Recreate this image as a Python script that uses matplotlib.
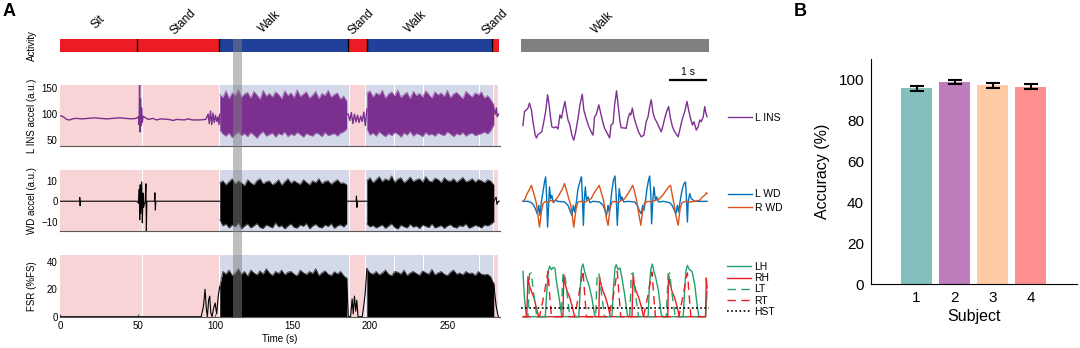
import matplotlib
matplotlib.use('Agg')
import matplotlib.pyplot as plt
import numpy as np

plt.rcParams['font.family'] = ['Liberation Sans', 'DejaVu Sans']
plt.rcParams['axes.unicode_minus'] = True

W, H = 1080, 348

# ---------------------------------------------------------------- panel A data
# activity annotation of the recording (s)
activity_names = ['Sit', 'Stand', 'Walk', 'Stand', 'Walk', 'Stand']
activity_edges = [0, 49.4, 102.5, 186.0, 198.0, 279.0, 283.4]
activity_label_t = [24.7, 79.6, 135.5, 194.4, 229.8, 280.8]

# classifier windows shown behind the signals
window_edges = [0, 53.2, 102.9, 186.6, 197.4, 215.8, 234.4, 270.6, 279.9, 283.3]
window_kind = ['static', 'static', 'walk', 'static', 'walk', 'walk', 'walk',
               'walk', 'static']

# zoomed walking segment (s)
zoom_span = [111.7, 117.5]

# sample times of the envelopes during the two walking bouts
walk1_t = np.arange(103, 186, 2)
walk2_t = np.arange(198, 281, 2)

# L INS acceleration (a.u.)
ins_rest1 = [(0, 97), (2, 95), (4, 90), (6, 89), (8, 91), (10, 92), (14, 91),
             (18, 92), (22, 93), (26, 92), (30, 91), (34, 92), (38, 93),
             (42, 92), (46, 91), (49, 92), (50.5, 95), (50.9, 80),
             (51.2, 156), (51.5, 66), (51.8, 130), (52.1, 78), (52.5, 112),
             (52.9, 84), (53.5, 96), (55, 93), (57, 90), (60, 92), (62, 89),
             (65, 91), (70, 90), (73, 88), (75, 90), (80, 89), (83, 91),
             (85, 89), (90, 89), (94, 90), (95.5, 100), (96.2, 82),
             (97, 106), (97.8, 80), (98.6, 102), (99.4, 84), (100.2, 98),
             (101, 86), (101.8, 95), (102.5, 80), (103, 100)]
ins_rest2 = [(185, 100), (186, 100), (187, 88), (188, 103), (189, 82),
             (190, 100), (191, 85), (192, 98), (193, 84), (194, 96),
             (195, 86), (196, 104), (197, 78), (198, 110)]
ins_rest3 = [(280, 110), (281, 100), (281.6, 112), (282.2, 95), (283, 100)]
ins_walk1_hi = [138, 132, 145, 130, 141, 136, 147, 133, 139, 142, 131, 144,
                137, 129, 146, 135, 140, 133, 143, 138, 130, 145, 136, 141,
                132, 147, 134, 139, 143, 131, 137, 144, 130, 140, 136, 146,
                133, 138, 141, 129, 135, 125]
ins_walk1_lo = [70, 62, 58, 64, 55, 61, 66, 59, 63, 57, 65, 60, 54, 62, 67,
                58, 61, 64, 56, 63, 60, 66, 57, 62, 59, 65, 61, 56, 63, 60,
                58, 64, 62, 57, 65, 59, 61, 63, 58, 64, 66, 72]
ins_walk2_hi = [140, 145, 133, 141, 137, 146, 131, 139, 143, 135, 147, 132,
                138, 142, 130, 144, 136, 140, 133, 145, 138, 131, 143, 137,
                141, 134, 146, 132, 139, 142, 136, 130, 144, 138, 133, 141,
                137, 143, 131, 136, 128, 118]
ins_walk2_lo = [72, 60, 64, 58, 66, 61, 57, 63, 59, 65, 62, 56, 64, 60, 67,
                58, 63, 61, 57, 65, 60, 62, 58, 64, 61, 59, 66, 62, 57, 63,
                60, 65, 58, 62, 64, 59, 61, 63, 66, 62, 68, 80]

# WD acceleration (a.u.)
wd_rest1 = [(0, 0), (12.4, 0), (12.6, 1.8), (12.8, -2.2), (13.0, 0),
            (49.5, 0), (50.5, -1), (51, 5.8), (51.3, -9), (51.6, 8),
            (52, -6), (52.6, 9.4), (53, -10.5), (53.4, 4), (53.8, -3),
            (54.8, 0), (55.3, 8.5), (55.6, -14.8), (55.9, 0), (60.8, 0),
            (61.1, 4.1), (61.4, -4.3), (61.7, 0), (102.5, 0), (103, 0)]
wd_rest2 = [(185, 0), (191, 0), (191.3, 2.5), (191.6, -3), (191.9, 0),
            (198, 0)]
wd_rest3 = [(280, 0), (281.5, 2), (282, -1.5), (283, 0), (283.5, 0)]
wd_walk1_hi = [9, 10, 8, 9.5, 11, 8.5, 10, 9, 7.5, 10.5, 9, 8, 10, 11, 8.5,
               9.5, 10, 8, 9, 10.5, 7.8, 9.5, 11, 8.8, 10, 9, 8.2, 10.5, 9.2,
               8, 10, 9, 11, 8.5, 9.7, 10, 8.3, 9.5, 10.5, 8.8, 9, 8]
wd_walk1_lo = [-9, -12, -11, -13, -11.5, -12.5, -10.5, -13.5, -12, -11, -13,
               -12, -10.8, -12.8, -13.2, -11.5, -12.2, -13, -10.5, -12.5,
               -11.8, -13.5, -12, -11, -12.8, -13, -11.5, -12.2, -10.8,
               -13.4, -12, -11.2, -12.6, -13, -11.5, -12.3, -10.9, -13.2,
               -12, -11.4, -12.5, -11]
wd_walk2_hi = [10, 11.5, 9, 10.5, 12, 9.5, 11, 10, 12.3, 9.2, 10.8, 11.5, 9,
               10.2, 11.8, 9.6, 10.5, 11, 9.3, 12, 10, 9.4, 11.2, 10.6, 9,
               11.5, 10, 9.8, 11, 9.2, 10.4, 11.6, 9.5, 10, 11, 9.3, 10.6,
               10, 9, 10.5, 9.8, 8]
wd_walk2_lo = [-11, -12.5, -11.8, -13, -12.2, -11.5, -13.2, -12, -11, -12.8,
               -13.5, -11.6, -12.4, -13, -11.2, -12.6, -12, -13.3, -11.5,
               -12.2, -12.8, -11, -13, -12.4, -11.8, -13.2, -12, -11.4,
               -12.6, -13, -11.8, -12.3, -11, -13.1, -12.5, -11.7, -12.2,
               -13, -11.5, -12, -11.2, -10]

# FSR (% full scale)
fsr_rest1 = [(0, 0), (91, 0), (92.5, 8), (93.5, 20), (94.3, 6), (95, 0),
             (95.8, 12), (96.5, 15), (97.2, 3), (98, 0), (99, 6), (100, 10),
             (101, 2), (102, 15), (103, 22)]
fsr_rest2 = [(185, 28), (186, 0), (187.5, 0), (188.5, 13), (189.2, 2),
             (190, 15), (190.8, 4), (191.5, 12), (192.3, 0), (195, 0),
             (196, 8), (197, 18), (198, 35)]
fsr_rest3 = [(280, 24), (280.5, 18), (281.5, 8), (282.5, 2), (283, 0)]
fsr_walk1_hi = [22, 33, 31, 34, 30, 32, 35, 31, 33, 29.5, 34, 32, 30.5, 33.5,
                31, 35, 32, 30, 33, 31.5, 34, 30.5, 32.5, 33, 31, 29.8, 34,
                32, 30.8, 33, 31.5, 35, 30, 32, 33.5, 31, 30, 32.8, 31.2, 33,
                30, 28]
fsr_walk2_hi = [35, 32, 31, 33, 30.5, 32, 34, 31, 30, 33, 32.5, 31, 34, 30,
                32, 33, 31.5, 30.2, 33.5, 32, 31, 34.5, 30.5, 32, 33, 31, 30,
                32.5, 34, 31, 32, 30.5, 33, 31.5, 32, 30, 33, 31, 30.5, 31,
                29, 24]

# ------------------------------------------------ zoomed walking segment (s)
detail_span = [-0.05, 4.83]
ins_detail = [(0.00, 87), (0.04, 112), (0.09, 115), (0.13, 118), (0.17, 127),
              (0.22, 115), (0.26, 94), (0.32, 70), (0.35, 65), (0.39, 71),
              (0.43, 73), (0.49, 76), (0.55, 97), (0.59, 112), (0.64, 142),
              (0.68, 124), (0.72, 100), (0.75, 85), (0.81, 83), (0.86, 85),
              (0.91, 81), (0.96, 106), (1.00, 100), (1.05, 118), (1.09, 130),
              (1.13, 112), (1.17, 97), (1.22, 88), (1.27, 70), (1.32, 61),
              (1.37, 76), (1.43, 100), (1.48, 124), (1.54, 143), (1.58, 115),
              (1.64, 100), (1.71, 85), (1.77, 76), (1.82, 70), (1.86, 103),
              (1.90, 106), (1.97, 124), (2.02, 109), (2.07, 94), (2.12, 82),
              (2.19, 73), (2.25, 65), (2.29, 88), (2.34, 91), (2.38, 124),
              (2.43, 149), (2.47, 124), (2.52, 94), (2.55, 83), (2.62, 83),
              (2.68, 82), (2.73, 100), (2.77, 109), (2.80, 106), (2.84, 118),
              (2.88, 103), (2.94, 88), (3.00, 76), (3.07, 67), (3.14, 70),
              (3.20, 94), (3.25, 103), (3.29, 121), (3.33, 133), (3.38, 109),
              (3.42, 100), (3.49, 91), (3.55, 82), (3.59, 76), (3.64, 88),
              (3.68, 100), (3.73, 112), (3.78, 121), (3.83, 100), (3.88, 85),
              (3.94, 76), (4.03, 67), (4.08, 82), (4.13, 97), (4.20, 112),
              (4.26, 130), (4.30, 115), (4.35, 100), (4.40, 88), (4.44, 94),
              (4.50, 79), (4.55, 85), (4.59, 97), (4.63, 94), (4.68, 103),
              (4.72, 121), (4.74, 112), (4.78, 103)]
lwd_detail = [(0.00, 0), (0.13, 0), (0.22, -0.6), (0.28, -1.8), (0.33, -3.6),
              (0.37, -5.6), (0.41, -1.8), (0.44, -6.3), (0.48, 0), (0.52, 4.2),
              (0.56, 8.7), (0.59, 11.0), (0.61, 4.2), (0.64, -11.6),
              (0.67, -0.3), (0.69, 6.5), (0.72, 1.2), (0.75, 2.7),
              (0.79, -0.6), (0.84, 0.5), (0.91, 0), (1.08, -0.3),
              (1.17, -1.8), (1.22, -4.1), (1.27, -6.3), (1.31, -1.8),
              (1.34, -4.8), (1.39, 0), (1.43, 5.7), (1.49, 9.5), (1.52, 11.0),
              (1.54, 2.7), (1.57, -10.8), (1.59, 0), (1.62, 6.5), (1.65, 0.5),
              (1.69, 2.0), (1.74, -0.6), (1.82, 0), (1.99, -0.3),
              (2.08, -1.8), (2.12, -3.6), (2.17, -6.3), (2.21, -1.8),
              (2.24, -4.8), (2.28, 0), (2.31, 5.0), (2.35, 9.5), (2.39, 11.4),
              (2.42, 2.7), (2.45, -10.8), (2.48, 0), (2.50, 5.7), (2.54, 0.5),
              (2.57, 2.0), (2.62, -0.3), (2.73, 0), (2.90, -0.3),
              (2.97, -1.8), (3.02, -4.1), (3.07, -5.6), (3.11, -1.8),
              (3.14, -4.1), (3.18, 0), (3.22, 5.7), (3.26, 9.5), (3.29, 11.4),
              (3.32, 2.7), (3.34, -10.1), (3.37, 0), (3.40, 6.5), (3.44, 0.5),
              (3.47, 2.0), (3.52, -0.3), (3.64, 0), (3.81, -0.6),
              (3.87, -1.8), (3.92, -3.6), (3.97, -5.6), (4.01, -1.8),
              (4.04, -4.8), (4.08, 0), (4.13, 5.0), (4.18, 8.0), (4.22, 8.7),
              (4.24, 2.7), (4.27, -9.3), (4.29, 0), (4.33, 3.5), (4.37, 1.2),
              (4.46, 0), (4.63, 0), (4.78, 0)]
rwd_detail = [(0.00, 0), (0.06, 1.2), (0.11, 3.5), (0.16, 5.0), (0.22, 7.2),
              (0.27, 4.2), (0.32, 1.2), (0.35, -1.1), (0.39, -6.3),
              (0.43, -11.6), (0.48, -4.8), (0.52, -1.1), (0.58, 0),
              (0.65, -0.6), (0.72, 0.5), (0.78, 0), (0.84, 0.5), (0.91, 2.0),
              (0.97, 3.9), (1.03, 5.7), (1.08, 8.0), (1.13, 5.0), (1.19, 1.2),
              (1.24, -1.8), (1.28, -6.3), (1.32, -11.6), (1.38, -3.3),
              (1.43, -0.3), (1.52, 0), (1.60, -0.6), (1.69, 0.5), (1.77, 1.2),
              (1.84, 3.5), (1.91, 5.4), (1.98, 7.2), (2.03, 4.2), (2.09, 0.5),
              (2.13, -3.3), (2.17, -7.8), (2.21, -10.8), (2.26, -3.3),
              (2.31, -0.3), (2.38, 0), (2.47, -0.6), (2.55, 0.3), (2.64, 1.2),
              (2.71, 3.0), (2.78, 5.0), (2.85, 7.2), (2.90, 4.2), (2.95, 0.5),
              (3.00, -4.8), (3.06, -10.8), (3.11, -4.1), (3.16, -0.6),
              (3.25, 0), (3.33, -0.3), (3.42, 0.3), (3.52, 0.9), (3.61, 2.4),
              (3.70, 4.5), (3.78, 6.5), (3.83, 7.2), (3.87, 3.5),
              (3.92, -1.1), (3.97, -6.3), (4.03, -10.8), (4.08, -3.3),
              (4.13, -0.6), (4.22, 0), (4.33, -0.3), (4.46, 0), (4.59, 0.5),
              (4.66, 2.0), (4.72, 2.7), (4.76, 3.9), (4.78, 3.5)]
lh_detail = [(0.00, 34), (0.04, 14), (0.09, 0), (0.58, 0), (0.62, 19),
             (0.66, 34), (0.69, 37.8), (0.74, 35.3), (0.79, 37), (0.83, 36.5),
             (0.87, 26.5), (0.94, 14), (1.00, 1.5), (1.02, 0), (1.45, 0),
             (1.49, 21.5), (1.52, 36.5), (1.56, 39.5), (1.60, 34), (1.65, 29),
             (1.72, 22.8), (1.79, 14), (1.86, 1.5), (1.90, 0), (2.31, 0),
             (2.35, 21.5), (2.39, 36.5), (2.42, 39), (2.47, 35.3),
             (2.52, 36.5), (2.57, 29), (2.64, 16.5), (2.71, 1.5), (2.74, 0),
             (3.25, 0), (3.28, 21.5), (3.32, 35.3), (3.36, 39.5), (3.40, 34),
             (3.45, 29), (3.52, 19), (3.59, 1.5), (3.63, 0), (4.16, 0),
             (4.20, 21.5), (4.23, 34), (4.27, 38.5), (4.32, 35.3), (4.39, 34),
             (4.46, 24), (4.53, 6.5), (4.57, 0), (4.74, 0), (4.78, 19)]
lt_detail = [(0.00, 0), (0.13, 0), (0.16, 19), (0.17, 32), (0.22, 32.8),
             (0.26, 21.5), (0.33, 6.5), (0.36, 0), (1.00, 0), (1.02, 19),
             (1.04, 32), (1.08, 32.8), (1.13, 21.5), (1.19, 6.5), (1.23, 0),
             (1.89, 0), (1.91, 19), (1.93, 32), (1.97, 32.8), (2.02, 21.5),
             (2.09, 6.5), (2.12, 0), (2.77, 0), (2.80, 19), (2.81, 32),
             (2.86, 32.8), (2.90, 21.5), (2.97, 6.5), (3.00, 0), (3.72, 0),
             (3.75, 19), (3.77, 32), (3.81, 32.8), (3.85, 21.5), (3.92, 6.5),
             (3.96, 0), (4.78, 0)]
rh_detail = [(0.00, 0), (0.10, 0), (0.13, 30), (0.16, 24), (0.22, 19),
             (0.29, 14), (0.35, 6.5), (0.41, 0), (1.04, 0), (1.06, 31.5),
             (1.10, 24), (1.15, 19), (1.22, 14), (1.29, 6.5), (1.34, 0),
             (1.97, 0), (1.99, 30), (2.03, 24), (2.08, 19), (2.15, 14),
             (2.22, 6.5), (2.27, 0), (2.83, 0), (2.86, 31.5), (2.89, 24),
             (2.94, 19), (3.01, 14), (3.08, 6.5), (3.13, 0), (3.76, 0),
             (3.78, 31.5), (3.82, 24), (3.87, 19), (3.94, 14), (4.01, 6.5),
             (4.06, 0), (4.74, 0), (4.76, 29), (4.78, 21.5)]
rt_detail = [(0.00, 0), (0.43, 0), (0.55, 16.5), (0.65, 34), (0.70, 14),
             (0.74, 0), (1.34, 0), (1.45, 16.5), (1.56, 34.5), (1.61, 14),
             (1.65, 0), (2.23, 0), (2.35, 16.5), (2.45, 34), (2.50, 14),
             (2.54, 0), (3.13, 0), (3.25, 16.5), (3.35, 33.5), (3.40, 14),
             (3.44, 0), (4.05, 0), (4.16, 16.5), (4.27, 32.8), (4.32, 14),
             (4.36, 0), (4.78, 0)]
hst_level = 6.5
scale_bar_s = 1.0

# ---------------------------------------------------------------- panel B data
subjects = [1, 2, 3, 4]
accuracy = [95.8, 99.0, 97.3, 96.6]
accuracy_err = [1.2, 0.9, 1.3, 1.1]
subject_colors = ['#83bfbd', '#bf7dbe', '#ffcba4', '#ff8f8f']

# ---------------------------------------------------------------- styling
RED, BLUE = '#ed1c24', '#21409a'
PINK, LIGHTBLUE = '#f8d4d6', '#d4d9ea'
PURPLE = '#7b2f8e'
GREEN, FSR_RED = '#24a06b', '#ec1c24'
LWD_C, RWD_C = '#0072bd', '#d95319'
XMAX = 284
LABEL_FS = 8.5


def px_axes(fig, x0, y0, x1, y1, **kw):
    # axes placed by pixel box (left, top, right, bottom) of the figure
    return fig.add_axes([x0 / W, 1 - y1 / H, (x1 - x0) / W, (y1 - y0) / H],
                        **kw)


def xy(pairs):
    arr = np.array(pairs, dtype=float)
    return arr[:, 0], arr[:, 1]


def shade_windows(ax):
    gap = 0.6
    for i, kind in enumerate(window_kind):
        a = window_edges[i] + (gap / 2 if i > 0 else 0)
        b = window_edges[i + 1] - gap / 2
        ax.axvspan(a, b, color=PINK if kind == 'static' else LIGHTBLUE,
                   lw=0, zorder=0)


def signal_axes(ax, ylim, yticks):
    ax.set_xlim(0, XMAX)
    ax.set_ylim(*ylim)
    ax.set_yticks(yticks)
    for s in ('top', 'right', 'left'):
        ax.spines[s].set_visible(False)
    ax.spines['bottom'].set_color('0.35')
    ax.spines['bottom'].set_linewidth(0.8)
    ax.tick_params(axis='y', length=0, pad=2, labelsize=7)
    ax.tick_params(axis='x', length=0, labelbottom=False)
    shade_windows(ax)


def side_legend(ax, y_px, x_px=728, spacing=0.3):
    ax.legend(loc='center left', bbox_to_anchor=(x_px / W, 1 - y_px / H),
              bbox_transform=fig.transFigure, frameon=False, fontsize=7.5,
              handlelength=2.3, handletextpad=0.3, borderpad=0,
              borderaxespad=0, labelspacing=spacing)


fig = plt.figure(figsize=(W / 100, H / 100), dpi=100)

# activity bar
ax_act = px_axes(fig, 60.3, 39, 500, 52)
for i, name in enumerate(activity_names):
    a, b = activity_edges[i], activity_edges[i + 1]
    ax_act.barh(0.5, b - a, left=a, height=1,
                color=BLUE if name == 'Walk' else RED, lw=0)
    ax_act.text(activity_label_t[i], 2.3, name, rotation=45,
                fontsize=LABEL_FS, ha='center', va='center',
                transform=ax_act.get_xaxis_transform())
for e in activity_edges[1:-1]:
    ax_act.axvline(e, color='k', lw=1.0)
ax_act.set_xlim(0, XMAX)
ax_act.set_ylim(0, 1)
ax_act.axis('off')

# L INS
ax_ins = px_axes(fig, 60.3, 85, 500, 146)
signal_axes(ax_ins, (39, 156), [50, 100, 150])
for rest in (ins_rest1, ins_rest2, ins_rest3):
    ax_ins.plot(*xy(rest), color=PURPLE, lw=1.0, zorder=2)
for t, lo, hi in ((walk1_t, ins_walk1_lo, ins_walk1_hi),
                  (walk2_t, ins_walk2_lo, ins_walk2_hi)):
    ax_ins.fill_between(t, lo, hi, color=PURPLE, lw=0, zorder=2)
    ax_ins.plot(t, hi, color='#a070b0', lw=0.6, zorder=2)
    ax_ins.plot(t, lo, color='#a070b0', lw=0.6, zorder=2)

# WD
ax_wd = px_axes(fig, 60.3, 170, 500, 231)
signal_axes(ax_wd, (-14.5, 15.2), [-10, 0, 10])
for rest in (wd_rest1, wd_rest2, wd_rest3):
    ax_wd.plot(*xy(rest), color='k', lw=0.8, zorder=2)
for t, lo, hi in ((walk1_t, wd_walk1_lo, wd_walk1_hi),
                  (walk2_t, wd_walk2_lo, wd_walk2_hi)):
    ax_wd.fill_between(t, lo, hi, color='k', lw=0, zorder=2)
    ax_wd.plot(t, hi, color='0.3', lw=0.6, zorder=2)
    ax_wd.plot(t, lo, color='0.3', lw=0.6, zorder=2)

# FSR
ax_fsr = px_axes(fig, 60.3, 255, 500, 316.7)
signal_axes(ax_fsr, (0, 45), [0, 20, 40])
for rest in (fsr_rest1, fsr_rest2, fsr_rest3):
    ax_fsr.plot(*xy(rest), color='k', lw=0.8, zorder=2)
for t, hi in ((walk1_t, fsr_walk1_hi), (walk2_t, fsr_walk2_hi)):
    ax_fsr.fill_between(t, 0, hi, color='k', lw=0, zorder=2)
    ax_fsr.plot(t, hi, color='0.25', lw=0.6, zorder=2)
ax_fsr.set_xticks([0, 50, 100, 150, 200, 250])
ax_fsr.tick_params(axis='x', labelbottom=True, labelsize=7, length=2,
                   direction='in', pad=3, color='0.35')
ax_fsr.set_xlabel('Time (s)', fontsize=7, labelpad=2)

# y labels share one column
for ax, label in ((ax_act, 'Activity'), (ax_ins, 'L INS accel (a.u.)'),
                  (ax_wd, 'WD accel (a.u.)'), (ax_fsr, 'FSR (%FS)')):
    box = ax.get_position()
    fig.text(31.7 / W, box.y0 + box.height / 2, label, rotation=90,
             fontsize=7, ha='center', va='center')

# highlighted window spanning all left panels
ax_over = px_axes(fig, 60.3, 39, 500, 317)
ax_over.set_xlim(0, XMAX)
ax_over.axvspan(*zoom_span, color='0.5', alpha=0.5, lw=0)
ax_over.patch.set_alpha(0)
ax_over.axis('off')

# zoomed walking segment
ax_wbar = px_axes(fig, 521, 39, 709, 51.5)
ax_wbar.barh(0.5, detail_span[1] - detail_span[0], left=detail_span[0],
             height=1, color='#808080', lw=0)
ax_wbar.set_xlim(*detail_span)
ax_wbar.set_ylim(0, 1)
ax_wbar.text(2.08, 2.3, 'Walk', rotation=45, fontsize=LABEL_FS, ha='center',
             va='center', transform=ax_wbar.get_xaxis_transform())
ax_wbar.axis('off')

ax_ins_d = px_axes(fig, 521, 88, 709, 143)
t, v = xy(ins_detail)
ax_ins_d.plot(t, v, color='#7f3192', lw=1.0, label='L INS')
ax_ins_d.set_xlim(*detail_span)
ax_ins_d.set_ylim(56, 154)
ax_ins_d.axis('off')
bar_y = 168
ax_ins_d.plot([t[-1] - scale_bar_s, t[-1]], [bar_y, bar_y], color='k',
              lw=1.6, clip_on=False, solid_capstyle='butt')
ax_ins_d.text(t[-1] - scale_bar_s / 2, bar_y + 6, '1 s', fontsize=7.5,
              ha='center', va='bottom', clip_on=False)
side_legend(ax_ins_d, 118)

ax_wd_d = px_axes(fig, 521, 172, 709, 232)
ax_wd_d.plot(*xy(lwd_detail), color=LWD_C, lw=1.0, label='L WD')
ax_wd_d.plot(*xy(rwd_detail), color=RWD_C, lw=1.0, label='R WD')
ax_wd_d.set_xlim(*detail_span)
ax_wd_d.set_ylim(-13.8, 13.2)
ax_wd_d.axis('off')
side_legend(ax_wd_d, 201)

ax_fsr_d = px_axes(fig, 521, 258, 709, 320)
ax_fsr_d.plot(*xy(lh_detail), color=GREEN, lw=1.0, label='LH')
ax_fsr_d.plot(*xy(rh_detail), color=FSR_RED, lw=1.0, label='RH')
ax_fsr_d.plot(*xy(lt_detail), color=GREEN, lw=1.0, dashes=(6, 4), label='LT')
ax_fsr_d.plot(*xy(rt_detail), color=FSR_RED, lw=1.0, dashes=(6, 4),
              label='RT')
ax_fsr_d.axhline(hst_level, color='k', lw=1.2, ls=(0, (1, 1.5)), label='HST')
ax_fsr_d.set_xlim(*detail_span)
ax_fsr_d.set_ylim(-2.5, 44)
ax_fsr_d.axis('off')
side_legend(ax_fsr_d, 289.5, x_px=727, spacing=0.12)

# ---------------------------------------------------------------- panel B
ax_b = px_axes(fig, 871, 59.3, 1077, 284.3)
ax_b.bar(subjects, accuracy, width=0.8, color=subject_colors, lw=0,
         yerr=accuracy_err, capsize=5,
         error_kw=dict(elinewidth=1.5, capthick=1.5, ecolor='k'))
ax_b.set_xlim(-0.2, 5.22)
ax_b.set_ylim(0, 110)
ax_b.set_xticks(subjects)
ax_b.set_yticks([0, 20, 40, 60, 80, 100])
for s in ('top', 'right'):
    ax_b.spines[s].set_visible(False)
for s in ('left', 'bottom'):
    ax_b.spines[s].set_linewidth(0.8)
ax_b.tick_params(length=0, labelsize=11, pad=5)
ax_b.set_xlabel('Subject', fontsize=11.5, labelpad=3)
ax_b.set_ylabel('Accuracy (%)', fontsize=11.5, labelpad=6)

fig.text(9 / W, 1 - 11 / H, 'A', fontsize=13, fontweight='bold',
         ha='center', va='center')
fig.text(800 / W, 1 - 12 / H, 'B', fontsize=13, fontweight='bold',
         ha='center', va='center')

fig.savefig('out.png', dpi=100)
